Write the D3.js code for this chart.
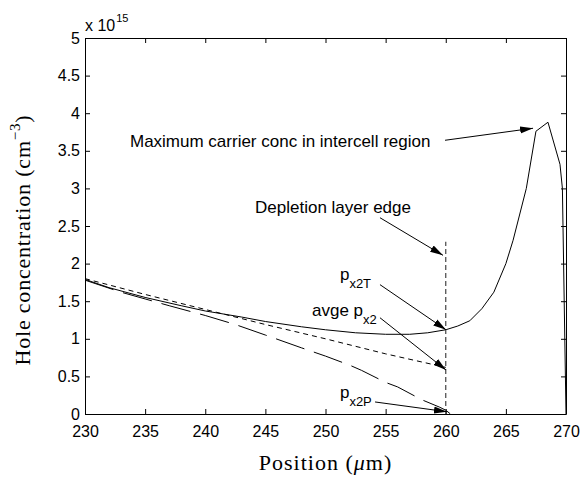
<!DOCTYPE html>
<html>
<head>
<meta charset="utf-8">
<script src="https://cdn.jsdelivr.net/npm/d3@7"></script>
<style>
  html, body { margin: 0; padding: 0; background: #fff; }
  svg { display: block; }
  .tick text { font-family: "Liberation Sans", Arial, sans-serif; font-size: 16px; fill: #000; }
  .ann { font-family: "Liberation Sans", Arial, sans-serif; fill: #000; }
  .serif { font-family: "Liberation Serif", "Times New Roman", serif; fill: #000; }
</style>
</head>
<body>
<svg id="chart" width="582" height="483"></svg>
<script>
// Position along the device (µm)
const totalPos = [230, 232, 235, 238, 240, 243, 245, 248, 250, 252.5, 255, 257, 258.5, 260, 261, 262, 263, 264, 265, 265.6, 266.7, 267.5, 268.5, 269.5, 269.7, 270];
// Hole concentration, total (x 1e15 cm^-3)
const totalConc = [1.79, 1.68, 1.55, 1.44, 1.37, 1.29, 1.23, 1.16, 1.12, 1.08, 1.06, 1.06, 1.08, 1.12, 1.17, 1.24, 1.40, 1.62, 2.00, 2.31, 3.00, 3.76, 3.88, 3.32, 3.00, 0.00];

// Average concentration profile
const avgPos = [230, 235, 240, 245, 250, 255, 260];
const avgConc = [1.80, 1.59, 1.39, 1.19, 1.00, 0.80, 0.62];

// Profile from the p-side model
const pPos = [230, 233, 235, 237, 240, 242.5, 245, 248, 250, 252, 253, 255, 256, 258, 259.5, 260, 260.4];
const pConc = [1.78, 1.62, 1.53, 1.44, 1.31, 1.19, 1.05, 0.88, 0.77, 0.65, 0.58, 0.42, 0.36, 0.19, 0.09, 0.05, 0.00];

const xTicks = [230, 235, 240, 245, 250, 255, 260, 265, 270];
const yTicks = [0, 0.5, 1, 1.5, 2, 2.5, 3, 3.5, 4, 4.5, 5];

const depletionEdge = 260;
const depletionTop = 2.29;

// Annotations: label anchor, arrow tail and arrow tip in data units
const annotations = [
  { text: "Maximum carrier conc in intercell region", sub: "", tx: 233.74, ty: 3.55, x1: 259.94, y1: 3.64, x2: 267.26, y2: 3.80 },
  { text: "Depletion layer edge", sub: "", tx: 244.14, ty: 2.67, x1: 254.53, y1: 2.61, x2: 259.77, y2: 2.11 },
  { text: "p", sub: "x2T", tx: 251.2, ty: 1.78, x1: 254.53, y1: 1.72, x2: 260.02, y2: 1.12 },
  { text: "avge p", sub: "x2", tx: 248.88, ty: 1.30, x1: 254.53, y1: 1.28, x2: 260.02, y2: 0.585 },
  { text: "p", sub: "x2P", tx: 251.2, ty: 0.21, x1: 254.12, y1: 0.16, x2: 260.1, y2: 0.03 }
];

const svg = d3.select("#chart");
const L = 85, R = 566, T = 38, B = 414;

const x = d3.scaleLinear().domain([230, 270]).range([L, R]);
const y = d3.scaleLinear().domain([0, 5]).range([B, T]);

// Arrowhead
svg.append("defs").append("marker")
  .attr("id", "arrow")
  .attr("markerUnits", "userSpaceOnUse")
  .attr("markerWidth", 14).attr("markerHeight", 10)
  .attr("viewBox", "0 -5 14 10")
  .attr("refX", 13).attr("refY", 0)
  .attr("orient", "auto")
  .append("path")
  .attr("d", "M0,-3.6 L13,0 L0,3.6 Z")
  .attr("fill", "#000");

// Axes (ticks point inward on all four sides)
const gx = svg.append("g").attr("transform", `translate(0,${B})`)
  .call(d3.axisBottom(x).tickValues(xTicks).tickFormat(d3.format("d")).tickSize(-5).tickSizeOuter(0).tickPadding(12));
const gy = svg.append("g").attr("transform", `translate(${L},0)`)
  .call(d3.axisLeft(y).tickValues(yTicks).tickFormat(d => d3.format("")(d)).tickSize(-5).tickSizeOuter(0).tickPadding(5));
const gt = svg.append("g").attr("transform", `translate(0,${T})`)
  .call(d3.axisTop(x).tickValues(xTicks).tickFormat("").tickSize(-5).tickSizeOuter(0));
const gr = svg.append("g").attr("transform", `translate(${R},0)`)
  .call(d3.axisRight(y).tickValues(yTicks).tickFormat("").tickSize(-5).tickSizeOuter(0));
[gx, gy, gt, gr].forEach(g => {
  g.select(".domain").attr("stroke", "#000").attr("stroke-width", 1);
  g.selectAll(".tick line").attr("stroke", "#000").attr("stroke-width", 1);
  g.attr("font-family", null).attr("font-size", null);
});

// Exponent label
const ex = svg.append("text").attr("class", "ann").attr("x", L).attr("y", 31).attr("font-size", 16);
ex.append("tspan").text("x 10");
ex.append("tspan").attr("font-size", 11).attr("dy", -9).attr("dx", 1).text("15");

// Curves
const line = (xs, ys) => d3.line().x((d, i) => x(xs[i])).y((d, i) => y(ys[i]))(xs);

svg.append("path").attr("d", line(pPos, pConc))
  .attr("fill", "none").attr("stroke", "#000").attr("stroke-width", 1)
  .attr("stroke-dasharray", "30,10");
svg.append("path").attr("d", line(avgPos, avgConc))
  .attr("fill", "none").attr("stroke", "#000").attr("stroke-width", 1)
  .attr("stroke-dasharray", "5,4");
svg.append("path").attr("d", line(totalPos, totalConc))
  .attr("fill", "none").attr("stroke", "#000").attr("stroke-width", 1);

// Depletion layer edge marker
svg.append("line")
  .attr("x1", x(depletionEdge)).attr("x2", x(depletionEdge))
  .attr("y1", y(0)).attr("y2", y(depletionTop))
  .attr("stroke", "#444").attr("stroke-width", 1.2).attr("stroke-dasharray", "5,3");

// Annotations
annotations.forEach(a => {
  svg.append("line")
    .attr("x1", x(a.x1)).attr("y1", y(a.y1))
    .attr("x2", x(a.x2)).attr("y2", y(a.y2))
    .attr("stroke", "#000").attr("stroke-width", 1)
    .attr("marker-end", "url(#arrow)");
  const t = svg.append("text").attr("class", "ann")
    .attr("x", x(a.tx)).attr("y", y(a.ty)).attr("font-size", 17);
  t.append("tspan").text(a.text);
  if (a.sub) t.append("tspan").attr("font-size", 13).attr("dy", 8).text(a.sub);
});

// Axis titles
const xl = svg.append("text").attr("class", "serif")
  .attr("x", (L + R) / 2).attr("y", 470).attr("text-anchor", "middle")
  .attr("font-size", 22).attr("letter-spacing", "1px");
xl.append("tspan").text("Position (");
xl.append("tspan").attr("font-style", "italic").text("μ");
xl.append("tspan").text("m)");

const yl = svg.append("text").attr("class", "serif")
  .attr("transform", `translate(30,${(T + B) / 2 + 14}) rotate(-90)`)
  .attr("text-anchor", "middle").attr("font-size", 22).attr("letter-spacing", "0.8px");
yl.append("tspan").text("Hole concentration (cm");
yl.append("tspan").attr("font-size", 15).attr("dy", -10).text("−3");
yl.append("tspan").attr("dy", 10).text(")");
</script>
</body>
</html>
